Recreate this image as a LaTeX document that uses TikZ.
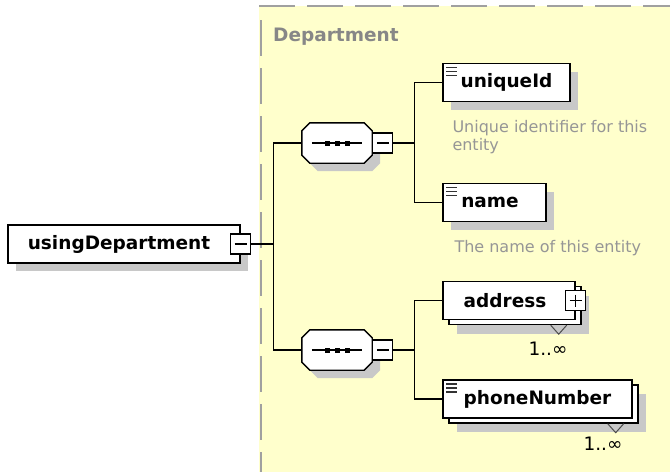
\documentclass[tikz,border=0pt]{standalone}
\usepackage{fontspec}
\setmainfont{DejaVu Sans}
\usetikzlibrary{positioning, shadows}

\definecolor{deptbg}{RGB}{255,255,204}
\definecolor{deptline}{RGB}{160,160,160}
\definecolor{shadowgrey}{RGB}{200,200,200}
\definecolor{docgrey}{RGB}{150,150,150}

\begin{document}
\begin{tikzpicture}[
    x=1pt, y=-1pt,
    elem/.style={rectangle, draw, fill=white, line width=1.4pt, minimum height=38pt, inner sep=0pt,
      font=\fontsize{18.5}{22}\selectfont\bfseries,
      drop shadow={shadow xshift=8pt, shadow yshift=-8pt, fill=shadowgrey, opacity=1}},
    multielem/.style={rectangle, draw, fill=white, line width=1.4pt, minimum height=38pt, inner sep=0pt,
      font=\fontsize{18.5}{22}\selectfont\bfseries,
      drop shadow={shadow xshift=14pt, shadow yshift=-14pt, fill=shadowgrey, opacity=1},
      copy shadow={shadow xshift=6pt, shadow yshift=-5pt, fill=white, draw=black, line width=1.4pt}},
    simpletype/.style={path picture={
      \foreach \dy in {4,8,12}
        \draw[line width=1.1pt, black!80] ([xshift=3pt, yshift=-\dy pt]path picture bounding box.north west) -- ++(11,0);}},
    seqbox/.style={rectangle, minimum width=70pt, minimum height=40pt, inner sep=0pt},
    octagon/.style={draw, fill=white, line width=1.4pt,
      drop shadow={shadow xshift=8pt, shadow yshift=-8pt, fill=shadowgrey, opacity=1}},
    tog/.style={rectangle, draw, fill=white, line width=1.2pt, minimum size=20pt, inner sep=0pt},
    togminus/.style={tog, path picture={
      \draw[line width=1.2pt] ([xshift=4pt]path picture bounding box.west) -- ([xshift=-4pt]path picture bounding box.east);}},
    togplus/.style={tog, path picture={
      \draw[line width=1.2pt] ([xshift=4pt]path picture bounding box.west) -- ([xshift=-4pt]path picture bounding box.east);
      \draw[line width=1.2pt] ([yshift=-4pt]path picture bounding box.north) -- ([yshift=4pt]path picture bounding box.south);}},
    conn/.style={line width=1.4pt},
    notch/.style={line width=1pt, black!70},
    deptborder/.style={draw=deptline, line width=2pt, dash pattern=on 36pt off 12pt},
    depttitle/.style={font=\fontsize{18.5}{22}\selectfont\bfseries, text=docgrey!90!black, inner sep=0pt},
    doc/.style={font=\fontsize{16}{18}\selectfont, text=docgrey, align=left, inner sep=0pt},
    occurs/.style={font=\fontsize{18.5}{20}\selectfont, inner sep=0pt},
  ]
  \useasboundingbox (0,0) rectangle (670,472);

  % the Department type area
  \fill[deptbg] (259,6) rectangle (670,472);
  \draw[deptborder] (259,6) -- (670,6);
  \draw[deptborder] (261,20) -- (261,472);
  \node[depttitle, anchor=base west] (depttitle) at (273,41) {Department};

  % root element
  \node[elem, minimum width=232pt] (using) at (124,244) {usingDepartment\hspace*{10pt}};
  \node[togminus] (usingtog) at (using.east) {};
  \coordinate[right=22pt of usingtog] (trunk);

  % sequences
  \node[seqbox] (seq1) at (337,143) {};
  \node[seqbox] (seq2) at (337,350) {};
  \foreach \s in {seq1,seq2} {
    \draw[octagon] ([xshift=8pt]\s.north west) -- ([xshift=-8pt]\s.north east)
      -- ([yshift=-8pt]\s.north east) -- ([yshift=8pt]\s.south east)
      -- ([xshift=-8pt]\s.south east) -- ([xshift=8pt]\s.south west)
      -- ([yshift=8pt]\s.south west) -- ([yshift=-8pt]\s.north west) -- cycle;
    \draw[line width=1.2pt] ([xshift=10pt]\s.west) -- ([xshift=-10pt]\s.east);
    \foreach \dx in {-10,0,10}
      \fill ([xshift=\dx pt]\s.center) +(-2.5,-2.5) rectangle +(2.5,2.5);
  }
  \node[togminus, right=0pt of seq1] (seq1tog) {};
  \coordinate[right=21pt of seq1tog] (fork1);
  \node[togminus, right=0pt of seq2] (seq2tog) {};
  \coordinate[right=21pt of seq2tog] (fork2);

  % child elements
  \node[elem, simpletype, minimum width=127pt] (uniqueid) at (506.5,82.5) {uniqueId};
  \node[doc, anchor=north west] (uniqueiddoc) at ([xshift=10pt, yshift=-18pt]uniqueid.south west) {Unique identifier for this\\entity};
  \node[elem, simpletype, minimum width=103pt] (name) at (494.5,202.5) {name\hspace*{9pt}};
  \node[doc, anchor=north west] (namedoc) at ([xshift=12pt, yshift=-18pt]name.south west) {The name of this entity};

  \node[multielem, minimum width=132pt] (address) at (509,300.5) {address\hspace*{8pt}};
  \node[togplus] (addresstog) at (address.east) {};
  \draw[notch] ([xshift=-25pt, yshift=-5pt]address.south east) -- ++(8,9) -- ++(8,-9);
  \node[occurs, anchor=base east] (addressocc) at ([xshift=-8pt, yshift=-35pt]address.south east) {1..∞};

  \node[multielem, simpletype, minimum width=189pt] (phone) at (537.5,399) {phoneNumber};
  \draw[notch] ([xshift=-25pt, yshift=-5pt]phone.south east) -- ++(8,9) -- ++(8,-9);
  \node[occurs, anchor=base east] (phoneocc) at ([xshift=-10pt, yshift=-32pt]phone.south east) {1..∞};

  % connectors
  \draw[conn] (usingtog) -- (trunk);
  \draw[conn] (seq1) -| (trunk) |- (seq2);
  \draw[conn] (seq1tog) -- (fork1);
  \draw[conn] (uniqueid) -| (fork1) |- (name);
  \draw[conn] (seq2tog) -- (fork2);
  \draw[conn] (address) -| (fork2) |- (phone);
\end{tikzpicture}
\end{document}
